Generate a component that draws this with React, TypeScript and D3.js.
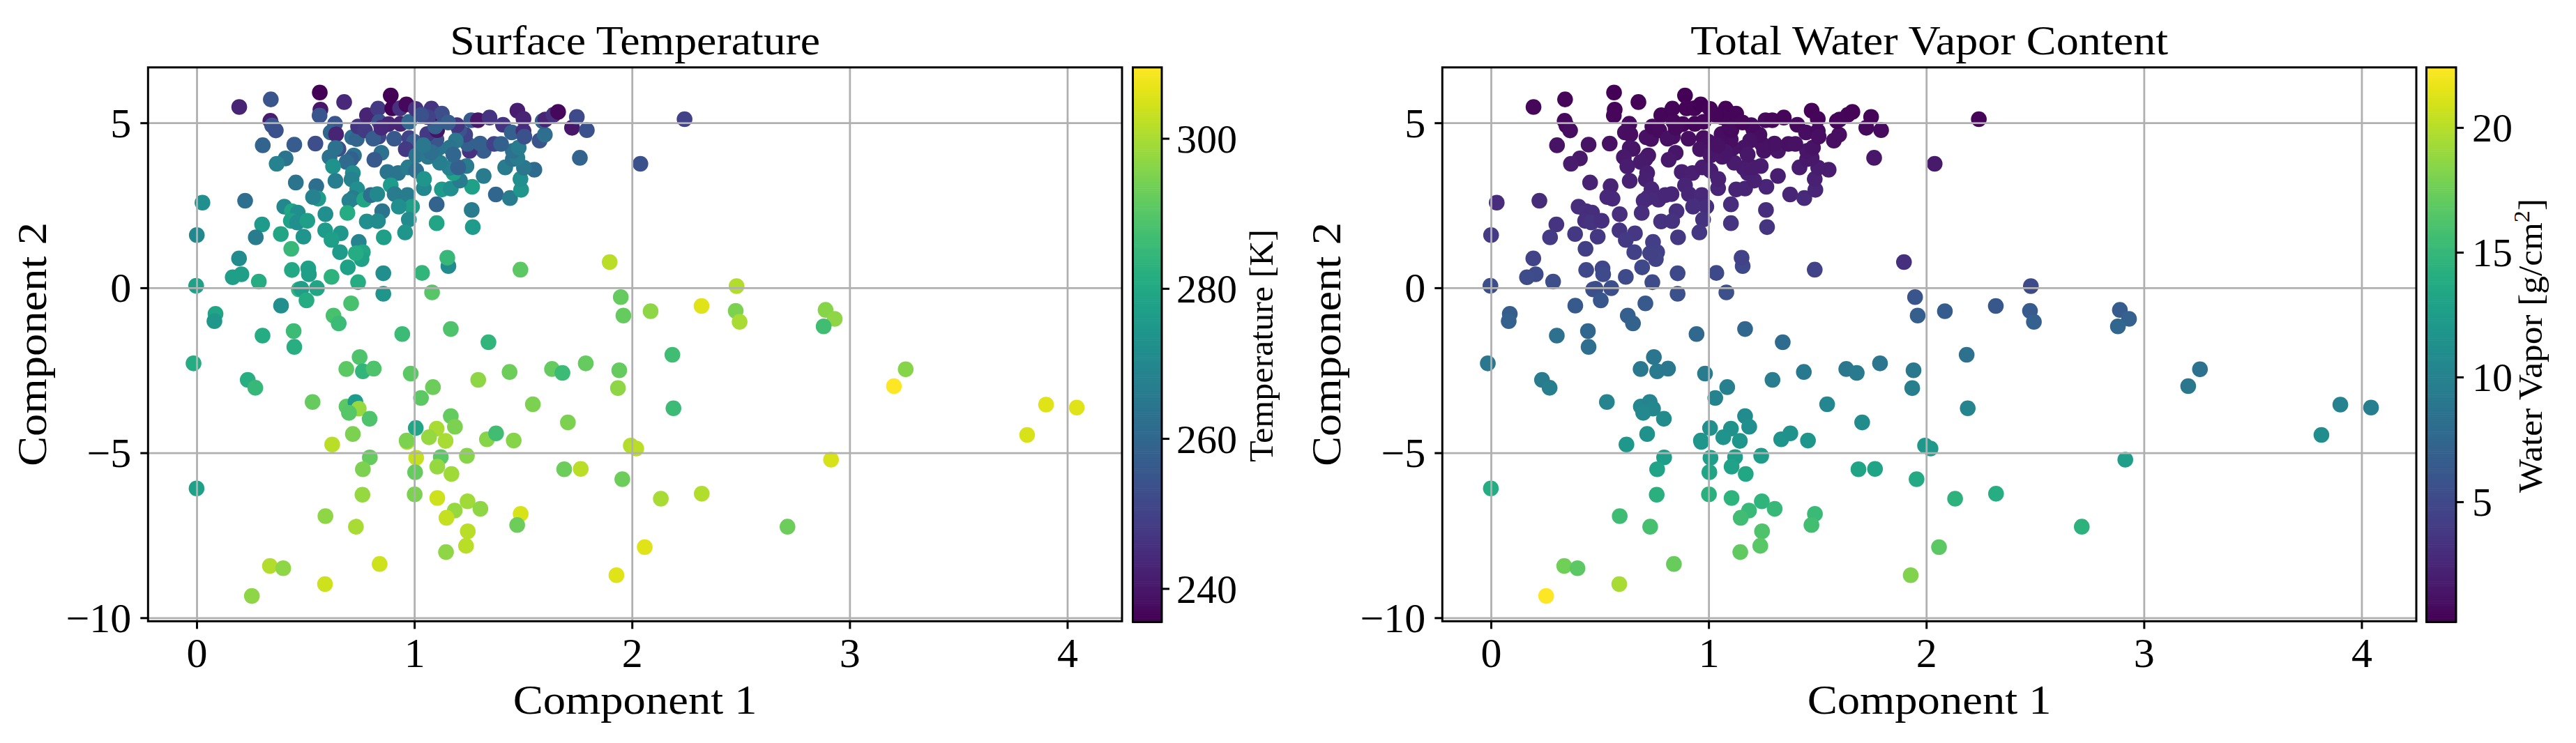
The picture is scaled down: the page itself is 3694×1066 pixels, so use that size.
import React from "react";
import * as d3 from "d3";

const compX = [
.194,.339,.564,.676,.567,.563,.337,.345,.362,.302,
.447,.544,.634,.614,.639,.713,.734,.74,.772,.781,
.832,.89,.897,.933,.962,.837,.88,.935,.975,1.005,
.834,.81,.906,.975,.997,.959,.847,.815,.65,.636,
.609,.721,.708,.687,.407,.366,.625,.716,.71,.636,
.454,.548,.736,.557,.533,.717,.70,.768,.799,.828,
.221,.025,.875,.924,.97,1.007,.89,.908,.967,1.042,
1.043,.988,.927,.973,.851,.78,.831,.956,.858,.691,
.59,.401,.436,.463,.431,.46,.507,.299,.27,.385,
.489,.589,.66,.618,.657,.743,.762,.756,.73,.433,
.193,-.001,.693,.511,.436,.514,.618,.856,1.034,.74,
.204,.164,.284,-.004,.468,.479,.551,.856,1.08,1.155,
1.15,1.486,1.896,1.267,1.262,1.101,1.101,1.125,1.166,1.264,
1.208,1.178,1.16,1.116,1.238,1.2,1.317,1.416,1.373,1.438,
1.489,1.486,1.55,1.502,1.759,1.451,1.472,1.451,1.478,1.317,
1.253,1.301,1.365,1.397,1.243,1.232,1.205,1.194,1.189,1.162,
1.178,1.109,1.1,1.058,1.103,1.095,1.093,1.077,1.125,1.061,
1.154,1.26,1.291,1.344,1.406,1.472,1.5,1.446,1.5,1.504,
1.574,1.598,1.588,1.6,1.638,1.659,1.723,1.745,1.791,1.03,
.847,1.007,1.029,1.061,1.077,1.04,2.24,2.037,.085,.08,
.386,.503,.708,.627,.651,.943,1.166,1.339,.444,.447,
.301,-.016,.233,.268,.531,.747,.686,.762,.812,.982,
1.084,1.292,1.029,.687,.728,.743,.698,.793,1.166,1.185,
1.005,1.101,1.066,1.142,.716,.621,.965,.963,1.332,1.374,
.794,1.007,1.12,1.24,.762,1.104,1.002,1.169,.76,1.0,
1.104,1.243,1.302,1.184,1.146,.59,.73,1.244,1.236,1.144,
.839,.335,.396,.588,.252,-.002,1.947,1.959,2.084,2.318,
2.479,2.475,2.493,2.888,2.93,2.879,2.184,1.436,1.631,1.679,
1.786,1.94,1.934,2.189,1.543,1.704,1.455,1.993,2.018,1.687,
1.763,1.954,2.913,2.131,2.319,1.487,1.471,2.713,2.057,1.927,
3.256,3.202,3.901,4.042,3.814];

const compY = [
5.49,5.72,5.93,5.64,5.41,5.23,5.07,4.93,4.78,4.33,
4.35,4.38,4.98,4.72,4.66,4.57,4.52,4.9,4.78,5.24,
5.44,5.84,5.45,5.45,5.57,5.04,4.97,4.98,5.04,5.43,
4.59,4.53,4.53,4.55,4.44,4.21,4.10,3.89,4.22,4.25,
3.97,4.02,3.91,3.82,3.93,3.77,3.69,3.49,3.30,3.25,
3.2,3.09,3.0,2.71,2.76,2.73,2.65,2.68,2.82,2.85,
2.65,2.59,3.52,3.49,3.66,3.56,3.12,2.85,2.82,3.03,
3.31,2.47,2.47,2.08,2.33,2.02,2.03,1.69,1.54,2.28,
2.24,2.47,2.33,2.29,2.04,1.99,2.04,1.93,1.54,1.64,
1.56,1.75,1.66,1.46,1.09,1.40,1.09,.88,1.06,1.19,
.9,1.61,.63,.6,.55,.42,.34,.45,.46,.18,
.42,.33,.2,.07,-.04,-.02,0,-.17,-.13,.67,
.92,.56,.79,1.85,2.37,1.97,2.54,2.99,3.02,3.07,
3.26,3.49,3.64,3.8,3.7,3.66,3.4,3.66,2.84,2.73,
2.98,3.31,3.59,3.65,3.95,3.91,3.95,4.16,4.26,4.16,
4.16,4.38,4.37,4.37,4.37,4.65,4.79,4.94,4.47,4.26,
4.05,4.24,4.51,4.67,4.79,4.9,5.31,5.44,5.29,5.18,
5.02,5.09,5.09,5.17,4.95,5.38,5.13,4.72,4.76,4.59,
4.47,4.65,5.06,5.11,5.25,5.34,4.86,5.19,4.79,5.25,
4.86,4.02,4.13,3.98,4.12,4.33,5.12,3.77,-.78,-1.0,
-.53,-.37,-.46,-.83,-1.07,-1.39,-1.24,-1.64,-1.3,-1.78,
-1.44,-2.28,-2.78,-3.02,-3.45,-2.09,-2.45,-2.52,-2.44,-2.59,
-3.0,-2.78,-3.33,-3.59,-3.45,-3.65,-3.78,-3.96,-3.88,-4.2,
-4.24,-4.26,-4.52,-4.63,-4.42,-4.74,-4.66,-4.62,-4.58,-4.4,
-5.13,-5.14,-5.12,-5.08,-5.49,-5.41,-5.58,-5.63,-6.26,-6.25,
-6.36,-6.46,-6.69,-6.74,-6.96,-6.91,-7.23,-7.37,-7.81,-8.0,
-8.36,-8.42,-8.49,-8.97,-9.33,-6.07,-.27,-.83,-.7,-.54,
.06,-.69,-1.02,-.66,-.93,-1.16,-2.02,-2.54,-2.45,-2.57,
-2.28,-2.49,-3.03,-3.64,-3.52,-4.07,-4.62,-4.77,-4.86,-5.49,
-5.48,-5.79,-5.2,-6.38,-6.23,-6.84,-7.18,-7.23,-7.85,-8.7,
-2.46,-2.97,-3.53,-3.62,-4.45];

const temperature = [
243,255,236,244,240,255,241,255,254,259,
257,253,255,260,243,262,259,247,248,243,
248,236,236,246,237,254,243,243,260,246,
251,257,256,250,257,248,263,256,253,263,
263,263,258,261,264,268,273,271,268,267,
264,262,272,276,268,266,268,279,262,270,
262,272,264,264,266,262,276,266,266,270,
274,277,272,271,264,272,271,274,277,281,
272,270,279,272,278,272,277,276,266,279,
274,276,275,277,276,269,279,278,281,285,
271,270,278,278,280,277,283,272,284,281,
277,277,281,278,284,277,279,274,290,271,
285,291,302,276,266,279,259,276,272,278,
266,278,268,267,266,258,266,266,260,266,
274,272,261,265,259,263,266,263,266,257,
246,258,250,258,258,250,255,247,265,264,
260,264,255,248,239,258,237,247,253,250,
257,256,240,247,247,241,243,258,245,254,
255,262,258,243,246,237,240,252,254,254,
244,264,264,265,262,265,250,254,279,275,
272,281,288,288,286,286,289,284,286,282,
281,281,282,285,292,289,291,284,289,291,
293,297,291,291,276,298,290,289,292,295,
279,300,298,300,295,302,300,295,296,287,
292,303,291,296,295,298,292,299,298,295,
304,299,297,298,303,297,300,302,302,297,
304,301,297,304,297,278,292,292,297,306,
301,295,300,296,297,287,287,293,292,286,
292,292,297,286,295,295,296,301,302,293,
302,293,305,300,301,305,293,293,306,306,
296,310,306,306,305];

const waterVapor = [
.6,.5,.3,.4,.5,.6,.7,.7,.9,1.3,
1.3,1.2,.8,1.0,.9,1.2,1.1,.7,.8,.5,
.5,.3,.4,.4,.3,.6,.6,.5,.6,.4,
1.0,1.1,1.0,1.0,1.1,1.3,1.4,1.6,1.3,1.4,
1.6,1.5,1.6,1.7,1.6,1.8,1.9,2.0,2.1,2.2,
2.3,2.4,2.5,2.8,2.7,2.7,2.8,2.7,2.6,2.6,
2.9,3.0,2.0,2.1,1.9,2.0,2.4,2.6,2.7,2.5,
2.2,3.1,3.1,3.4,3.2,3.4,3.4,3.7,3.8,3.2,
3.2,3.0,3.2,3.1,3.3,3.4,3.3,3.5,4.0,3.8,
3.8,3.6,3.7,3.9,4.4,4.2,4.4,4.6,4.5,4.3,
4.6,4.0,5.0,4.9,5.0,5.2,5.2,5.1,5.1,5.3,
5.2,5.3,5.4,5.5,5.6,5.5,5.5,5.7,5.6,5.0,
4.6,4.6,3.3,3.6,3.1,3.5,3.0,2.4,2.4,2.5,
2.2,2.1,1.9,1.8,1.9,1.8,2.0,1.9,2.5,2.8,
2.5,2.2,1.9,1.9,1.5,1.6,1.6,1.4,1.3,1.4,
1.3,1.2,1.1,1.2,1.2,.9,.9,.8,1.2,1.3,
1.5,1.3,1.0,.9,.7,.8,.4,.4,.5,.5,
.6,.7,.6,.5,.7,.4,.5,.9,.8,1.0,
1.0,1.0,.6,.6,.5,.4,.7,.5,.8,.5,
.7,1.5,1.4,1.5,1.4,1.2,.5,1.7,6.7,7.0,
6.4,6.1,6.3,6.8,7.1,7.6,7.4,7.9,7.5,8.1,
8.4,9.0,9.4,9.7,10.2,8.8,9.1,9.3,9.1,9.4,
9.8,9.5,10.1,10.4,10.2,10.5,10.7,10.9,10.8,11.2,
11.3,11.4,11.7,11.9,11.5,12.0,11.9,11.8,11.7,11.5,
12.5,12.6,12.5,12.4,13.1,13.0,13.3,13.4,14.3,14.3,
14.6,14.7,15.1,15.2,15.6,15.5,15.9,16.2,16.7,17.0,
17.3,17.6,16.8,19.5,22.4,13.9,6.0,6.8,6.6,6.2,
5.2,6.5,7.0,6.6,7.0,7.4,8.4,9.2,9.0,9.3,
8.8,9.1,9.7,10.3,10.4,10.9,11.9,12.0,12.2,13.2,
13.2,13.6,12.6,14.5,14.0,15.3,15.7,14.5,16.8,18.2,
8.6,9.0,10.0,9.6,11.0];

const xTicks = [0, 1, 2, 3, 4];
const yTicks = [-10, -5, 0, 5];
const tempTicks = [240, 260, 280, 300];
const vaporTicks = [5, 10, 15, 20];
const tempRange = [235.5, 309.6];
const vaporRange = [0.17, 22.45];
const xRange = [-0.225, 4.25];
const yRange = [-10.095, 6.69];

const FONT = "'Liberation Serif', serif";
const fmt = (v: number) => String(v).replace("-", "\u2212");

type PanelProps = {
  dx: number;
  title: string;
  titleLen: number;
  values: number[];
  range: number[];
  ticks: number[];
  cbTickX: number;
  cbLabel: React.ReactNode;
  cbLabelX: number;
  cbLabelLen: number;
};

function Panel({ dx, title, titleLen, values, range, ticks, cbTickX, cbLabel, cbLabelX, cbLabelLen }: PanelProps) {
  const left = 212.3 + dx;
  const right = 1609 + dx;
  const top = 96.7;
  const bottom = 891.3;
  const x = d3.scaleLinear().domain(xRange).range([left, right]);
  const y = d3.scaleLinear().domain(yRange).range([bottom, top]);
  const color = d3.scaleSequential(d3.interpolateViridis).domain(range as [number, number]);
  const cbL = 1624.5 + dx - (dx ? 1 : 0);
  const cbR = 1666 + dx;
  const cb = d3.scaleLinear().domain(range).range([bottom + 2, top - 1]);
  const steps = d3.range(256);
  const cx = (left + right) / 2;
  const cy = (top + bottom) / 2;
  return (
    <g fontFamily={FONT} fill="#000">
      {compX.map((v, i) => (
        <circle key={i} cx={x(v)} cy={y(compY[i])} r={11.3} fill={color(values[i])} />
      ))}
      {xTicks.map((t) => (
        <line key={t} x1={x(t)} x2={x(t)} y1={top} y2={bottom} stroke="#b0b0b0" strokeWidth={2.8} />
      ))}
      {yTicks.map((t) => (
        <line key={t} x1={left} x2={right} y1={y(t)} y2={y(t)} stroke="#b0b0b0" strokeWidth={2.8} />
      ))}
      <rect x={left} y={top} width={right - left} height={bottom - top} fill="none" stroke="#000" strokeWidth={3} />
      {xTicks.map((t) => (
        <g key={t}>
          <line x1={x(t)} x2={x(t)} y1={bottom} y2={bottom + 11} stroke="#000" strokeWidth={3} />
          <text x={x(t)} y={957} fontSize={60} textAnchor="middle">{fmt(t)}</text>
        </g>
      ))}
      {yTicks.map((t) => (
        <g key={t}>
          <line x1={left - 11} x2={left} y1={y(t)} y2={y(t)} stroke="#000" strokeWidth={3} />
          <text x={left - 24} y={y(t) + 20} fontSize={60} textAnchor="end">{fmt(t)}</text>
        </g>
      ))}
      <text x={cx} y={78} fontSize={60} textAnchor="middle" textLength={titleLen} lengthAdjust="spacingAndGlyphs">{title}</text>
      <text x={cx} y={1024} fontSize={60} textAnchor="middle" textLength={350} lengthAdjust="spacingAndGlyphs">Component 1</text>
      <text transform={`translate(${66 + dx},${cy}) rotate(-90)`} fontSize={60} textAnchor="middle" textLength={350} lengthAdjust="spacingAndGlyphs">Component 2</text>

      {steps.map((s) => {
        const a = range[0] + ((range[1] - range[0]) * s) / 256;
        const b = range[0] + ((range[1] - range[0]) * (s + 1)) / 256;
        return (
          <rect key={s} x={cbL} width={cbR - cbL} y={cb(b)} height={cb(a) - cb(b) + 0.6} fill={color((a + b) / 2)} />
        );
      })}
      <rect x={cbL} y={top} width={cbR - cbL} height={bottom - top + 1} fill="none" stroke="#000" strokeWidth={3} />
      {ticks.map((t) => (
        <g key={t}>
          <line x1={cbR} x2={cbR + 11} y1={cb(t)} y2={cb(t)} stroke="#000" strokeWidth={3} />
          <text x={cbTickX} y={cb(t) + 20} fontSize={58}>{fmt(t)}</text>
        </g>
      ))}
      <text transform={`translate(${cbLabelX},${cy + 2}) rotate(-90)`} fontSize={48} textAnchor="middle" textLength={cbLabelLen} lengthAdjust="spacingAndGlyphs">{cbLabel}</text>
    </g>
  );
}

export default function App() {
  return (
    <svg
      width={3694}
      height={1066}
      viewBox="0 0 3694 1066"
      style={{ position: "absolute", left: 0, top: 0, background: "#fff" }}
    >
      <Panel
        dx={0}
        title="Surface Temperature"
        titleLen={531}
        values={temperature}
        range={tempRange}
        ticks={tempTicks}
        cbTickX={1687}
        cbLabel="Temperature [K]"
        cbLabelX={1825}
        cbLabelLen={334}
      />
      <Panel
        dx={1856}
        title="Total Water Vapor Content"
        titleLen={685}
        values={waterVapor}
        range={vaporRange}
        ticks={vaporTicks}
        cbTickX={3545}
        cbLabel={
          <>
            Water Vapor [g/cm<tspan fontSize={32} dy={-18}>2</tspan><tspan dy={18}>]</tspan>
          </>
        }
        cbLabelX={3645}
        cbLabelLen={422}
      />
    </svg>
  );
}
